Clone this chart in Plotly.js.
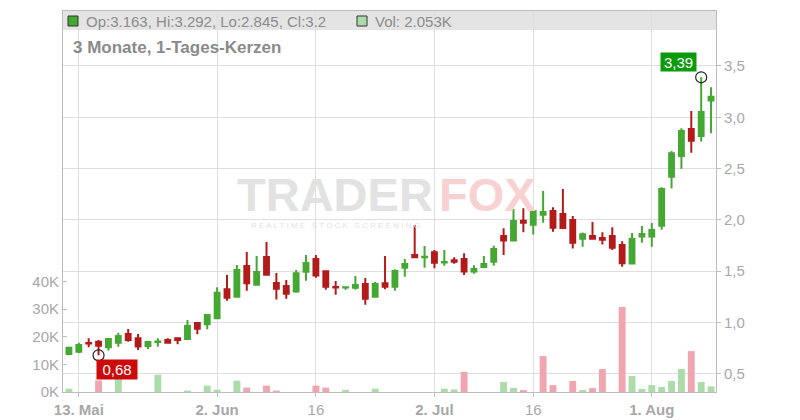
<!DOCTYPE html>
<html><head><meta charset="utf-8">
<script src="https://cdn.plot.ly/plotly-3.0.1.min.js"></script>
<style>html,body{margin:0;padding:0;background:#fff}#chart{width:800px;height:420px}</style>
</head><body><div id="chart"></div>
<script>
const dates = [
'2025-05-12','2025-05-13','2025-05-14','2025-05-15','2025-05-16','2025-05-19','2025-05-20','2025-05-21','2025-05-22','2025-05-23',
'2025-05-26','2025-05-27','2025-05-28','2025-05-29','2025-05-30',
'2025-06-02','2025-06-03','2025-06-04','2025-06-05','2025-06-06','2025-06-09','2025-06-10','2025-06-11','2025-06-12','2025-06-13',
'2025-06-16','2025-06-17','2025-06-18','2025-06-19','2025-06-20','2025-06-23','2025-06-24','2025-06-25','2025-06-26','2025-06-27','2025-06-30',
'2025-07-01','2025-07-02','2025-07-03','2025-07-04','2025-07-07','2025-07-08','2025-07-09','2025-07-10','2025-07-11',
'2025-07-14','2025-07-15','2025-07-16','2025-07-17','2025-07-18','2025-07-21','2025-07-22','2025-07-23','2025-07-24','2025-07-25',
'2025-07-28','2025-07-29','2025-07-30','2025-07-31',
'2025-08-01','2025-08-04','2025-08-05','2025-08-06','2025-08-07','2025-08-08','2025-08-11'];

const open  = [0.693,0.716,0.800,0.813,0.758,0.803,0.888,0.846,0.771,0.810,0.830,0.846,0.839,0.995,0.982,
1.041,1.323,1.252,1.551,1.369,1.638,1.385,1.356,1.301,1.495,1.619,1.499,1.345,1.340,1.339,1.375,
1.252,1.382,1.349,1.534,1.658,1.635,1.684,1.585,1.606,1.619,1.496,1.541,1.593,1.843,1.798,1.992,
1.952,2.051,2.087,2.058,1.999,1.817,1.843,1.824,1.843,1.755,1.574,1.837,1.837,1.944,2.421,2.623,2.886,2.818,3.163];
const high  = [0.764,0.803,0.846,0.830,0.846,0.901,0.937,0.888,0.820,0.846,0.846,0.852,1.025,1.002,1.083,
1.343,1.463,1.561,1.687,1.648,1.785,1.482,1.414,1.512,1.658,1.658,1.508,1.405,1.345,1.453,1.434,
1.395,1.648,1.518,1.619,1.950,1.746,1.707,1.707,1.635,1.674,1.557,1.648,1.749,1.918,2.106,2.113,
2.103,2.282,2.123,2.301,2.038,1.876,1.980,1.879,1.928,1.791,1.872,1.941,1.970,2.317,2.672,2.893,3.062,3.390,3.292];
const low   = [0.690,0.700,0.758,0.680,0.726,0.764,0.813,0.732,0.742,0.764,0.800,0.787,0.830,0.885,0.933,
1.040,1.213,1.250,1.310,1.365,1.465,1.223,1.232,1.291,1.408,1.437,1.320,1.271,1.320,1.320,1.174,
1.250,1.324,1.310,1.447,1.625,1.534,1.528,1.554,1.573,1.463,1.476,1.534,1.554,1.658,1.795,1.880,
1.857,1.973,1.885,1.911,1.720,1.739,1.815,1.759,1.707,1.544,1.567,1.778,1.739,1.905,2.305,2.499,2.655,2.763,2.845];
const close = [0.755,0.781,0.795,0.774,0.839,0.868,0.830,0.765,0.810,0.815,0.803,0.830,0.966,0.940,1.073,
1.290,1.242,1.512,1.382,1.492,1.466,1.330,1.281,1.479,1.580,1.457,1.349,1.340,1.343,1.366,1.232,
1.375,1.349,1.502,1.570,1.635,1.642,1.583,1.590,1.592,1.496,1.521,1.570,1.716,1.798,1.989,1.973,
2.087,2.077,1.924,1.921,1.778,1.859,1.817,1.807,1.729,1.577,1.814,1.863,1.902,2.301,2.649,2.867,2.772,3.052,3.200];
const volume = [1200,0,0,4200,0,6000,0,0,0,6300,0,0,500,0,2300,
800,0,4100,1600,0,2300,500,0,0,0,2300,1600,0,800,0,0,
1200,0,0,0,0,0,0,1200,900,7300,0,0,0,3600,1500,700,
0,13000,2500,0,4000,700,1400,8300,0,30800,5800,1100,2500,1800,4000,8300,14800,3600,2053];

const tickDates  = ['2025-05-13','2025-06-02','2025-06-16','2025-07-02','2025-07-16','2025-08-01'];
const tickLabels = ['<b>13. Mai</b>','<b>2. Jun</b>','16','<b>2. Jul</b>','16','<b>1. Aug</b>'];
const priceTicks = [0.5,1.0,1.5,2.0,2.5,3.0,3.5];
const volTicks = [0,10000,20000,30000,40000];
const volTickLabels = ['0K','10K','20K','30K','40K'];
const titleText = '3 Monate, 1-Tages-Kerzen';

const GREEN='#44a833', RED='#b31a1a', VGREEN='#acdcaa', VRED='#efa6b0';
const GRAY='#a8a8a8', FONT='Liberation Sans, Arial, sans-serif';

// pixel->paper helpers (plot area 63..716 x 11..392)
const PL=63, PR=716, PT=11, PB=392;
const px=v=>(v-PL)/(PR-PL), py=v=>(PB-v)/(PB-PT);

const volColors = volume.map((v,i)=> (i===0 ? close[i]>=open[i] : close[i]>=close[i-1]) ? VGREEN : VRED);

const n = close.length;
let iMax=0,iMin=0;
for(let i=0;i<n;i++){ if(high[i]>high[iMax]) iMax=i; if(low[i]<low[iMin]) iMin=i; }
const fmt = v=>v.toFixed(2).replace('.',',');

const traces = [
 {type:'bar', x:dates, y:volume, yaxis:'y', marker:{color:volColors, line:{width:0}}, hoverinfo:'skip', width:0.7},
 {type:'candlestick', x:dates, open:open, high:high, low:low, close:close, yaxis:'y2',
  increasing:{line:{color:GREEN,width:2}, fillcolor:GREEN},
  decreasing:{line:{color:RED,width:2}, fillcolor:RED}, whiskerwidth:0},
 {type:'scatter', mode:'markers', x:[dates[iMax],dates[iMin]], y:[high[iMax],low[iMin]], yaxis:'y2',
  marker:{symbol:'circle-open', size:11, color:'#222', line:{width:1.2}}, hoverinfo:'skip'}
];

const last = n-1;
const legendText = 'Op:'+open[last]+', Hi:'+high[last]+', Lo:'+low[last]+', Cl:'+close[last].toString().replace(/0+$/,'').replace(/\.$/,'');
const volText = 'Vol: '+(volume[last]/1000)+'K';

const layout = {
 width:800, height:420, margin:{l:PL, r:800-PR, t:PT, b:420-PB},
 paper_bgcolor:'#fff', plot_bgcolor:'rgba(0,0,0,0)', showlegend:false,
 separators:',.', font:{family:FONT, color:GRAY, size:15}, boxgap:0.3, bargap:0.3,
 xaxis:{type:'category', range:[-0.6,65.5], tickvals:tickDates, ticktext:tickLabels,
   showgrid:true, gridcolor:'#dedede', gridwidth:1, showline:true, mirror:true, linecolor:'#bdbdbd', linewidth:1,
   ticks:'outside', ticklen:4, tickcolor:'#bdbdbd', tickfont:{size:15, color:GRAY}, rangeslider:{visible:false}, fixedrange:true},
 yaxis:{range:[0,138000], tickvals:volTicks, ticktext:volTickLabels, side:'left', showgrid:false, zeroline:false,
   showline:true, linecolor:'#bdbdbd', ticks:'inside', ticklen:4, tickcolor:'#bdbdbd', tickfont:{size:15,color:GRAY}},
 yaxis2:{overlaying:'y', side:'right', range:[0.3226,4.036], tickvals:priceTicks, tickformat:'.1f',
   showgrid:true, gridcolor:'#dedede', gridwidth:1, zeroline:false, showline:true, linecolor:'#bdbdbd',
   ticks:'outside', ticklen:4, tickcolor:'#bdbdbd', tickfont:{size:15,color:GRAY}},
 shapes:[
  {type:'rect', xref:'paper', yref:'paper', x0:0, x1:1, y0:py(30), y1:1, fillcolor:'#e4e4e4', line:{width:0}, layer:'below'},
  {type:'rect', xref:'paper', yref:'paper', x0:px(68), x1:px(78), y0:py(26), y1:py(16), fillcolor:GREEN, line:{color:'#333',width:1}},
  {type:'rect', xref:'paper', yref:'paper', x0:px(357), x1:px(367), y0:py(26), y1:py(16), fillcolor:VGREEN, line:{color:'#333',width:1}}
 ],
 annotations:[
  {xref:'paper', yref:'paper', x:px(84), y:py(21), xanchor:'left', yanchor:'middle', showarrow:false, text:legendText, font:{size:15,color:'#8c8c8c'}},
  {xref:'paper', yref:'paper', x:px(373), y:py(21), xanchor:'left', yanchor:'middle', showarrow:false, text:volText, font:{size:15,color:'#8c8c8c'}},
  {xref:'paper', yref:'paper', x:px(71), y:py(47), xanchor:'left', yanchor:'middle', showarrow:false, text:'<b>'+titleText+'</b>', font:{size:17,color:'#8a8a8a'}},
  {xref:'paper', yref:'paper', x:px(335), y:py(194), xanchor:'center', yanchor:'middle', showarrow:false, text:'<b>TRADER</b>', font:{size:47,color:'#e2e2e2'}},
  {xref:'paper', yref:'paper', x:px(487), y:py(194), xanchor:'center', yanchor:'middle', showarrow:false, text:'<b>FOX</b>', font:{size:47,color:'#f8d2d2'}},
  {xref:'paper', yref:'paper', x:px(335), y:py(225), xanchor:'center', yanchor:'middle', showarrow:false, text:'R E A L T I M E   S T O C K   S C R E E N I N G', font:{size:8,color:'#e2e2e2'}},
  {x:dates[iMax], y:high[iMax], xref:'x', yref:'y2', xanchor:'right', yanchor:'bottom', xshift:-4, yshift:5, showarrow:false,
   text:fmt(high[iMax]), bgcolor:'#0a9a0a', width:35, height:18, borderpad:0, font:{size:15,color:'#fff'}},
  {x:dates[iMin], y:low[iMin], xref:'x', yref:'y2', xanchor:'left', yanchor:'top', xshift:-3, yshift:-4, showarrow:false,
   text:fmt(low[iMin]), bgcolor:'#cc0a0a', width:40, height:19, borderpad:0, font:{size:15,color:'#fff'}}
 ]
};
Plotly.newPlot('chart', traces, layout, {staticPlot:true, displayModeBar:false});
</script></body></html>
